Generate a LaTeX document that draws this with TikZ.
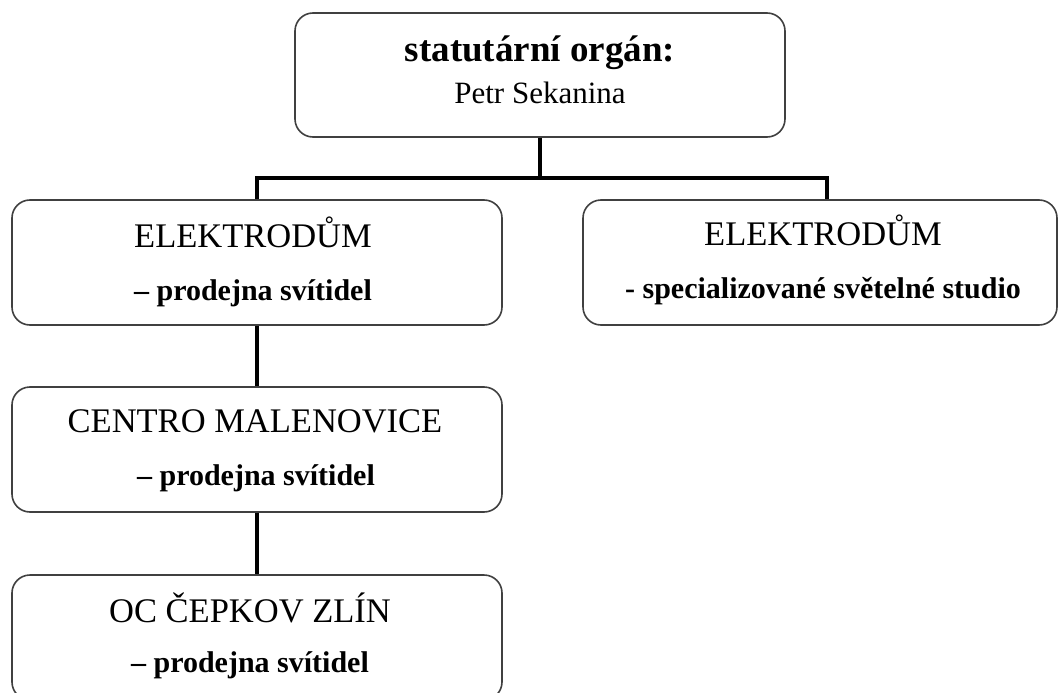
\documentclass[tikz,border=0pt]{standalone}
\usepackage{fontspec}
\setmainfont{Liberation Serif}
\begin{document}
\begin{tikzpicture}[x=1pt,y=-1pt,
  box/.style={draw=black!75, line width=1.6pt, rounded corners=18pt, minimum height=125pt, inner sep=0pt},
  conn/.style={draw=black, line width=4pt, line join=miter},
  ttl/.style={anchor=base, inner sep=0pt, font=\fontsize{37}{40}\selectfont\bfseries},
  nm/.style={anchor=base, inner sep=0pt, font=\fontsize{34.5}{38}\selectfont},
  sub/.style={anchor=base, inner sep=0pt, font=\fontsize{30}{34}\selectfont\bfseries},
  pers/.style={anchor=base, inner sep=0pt, font=\fontsize{31}{36}\selectfont}]
\useasboundingbox (0,0) rectangle (1058,693);
\node[box, minimum width=490pt, minimum height=124pt] (top) at (540,75) {};
\node[box, minimum width=490pt] (e1) at (257,262.5) {};
\node[box, minimum width=474pt] (e2) at (820,262.5) {};
\node[box, minimum width=490pt] (cm) at (257,449.5) {};
\node[box, minimum width=490pt] (oc) at (257,637.5) {};
\coordinate (jl) at (257,178);
\coordinate (jr) at (827,178);
\draw[conn] (top.south) -- (top.south |- jl);
\draw[conn] (e1.north) -- (jl) -- (jr) -- (jr |- e2.north);
\draw[conn] (e1.south) -- (cm.north);
\draw[conn] (cm.south) -- (oc.north);
\node[ttl] (t1) at (540,62) {statutární orgán:};
\node[pers] (t2) at (540,103) {Petr Sekanina};
\node[nm] (n1) at (253,247) {ELEKTRODŮM};
\node[sub] (s1) at (253,300) {– prodejna svítidel};
\node[nm] (n2) at (823,245) {ELEKTRODŮM};
\node[sub] (s2) at (823,298) {- specializované světelné studio};
\node[nm] (n3) at (255,432) {CENTRO MALENOVICE};
\node[sub] (s3) at (256,485) {– prodejna svítidel};
\node[nm] (n4) at (250,622) {OC ČEPKOV ZLÍN};
\node[sub] (s4) at (250,672) {– prodejna svítidel};
\end{tikzpicture}
\end{document}
